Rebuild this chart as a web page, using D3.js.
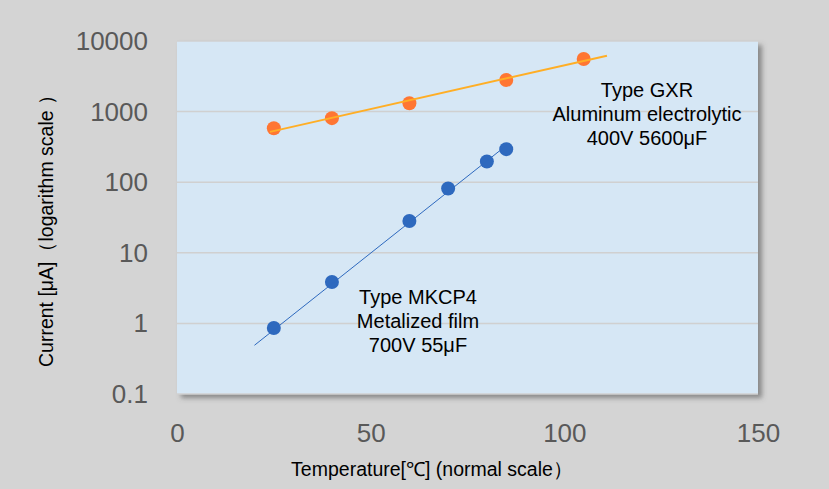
<!DOCTYPE html>
<html>
<head>
<meta charset="utf-8">
<script src="https://cdn.jsdelivr.net/npm/d3@7"></script>
<style>
  html, body { margin: 0; padding: 0; background: #d4d4d4; }
  svg { display: block; }
</style>
</head>
<body>
<div id="chart"></div>
<script>
// Type MKCP4 metalized film (blue)
const filmTemp = [25, 40, 60, 70, 80, 85];
const filmCurrent = [0.86, 3.86, 28.2, 81.5, 196, 294];
const filmTrend = [[20, 0.49], [85, 330]];

// Type GXR aluminum electrolytic (orange)
const aluTemp = [25, 40, 60, 85, 105];
const aluCurrent = [582, 807, 1315, 2807, 5565];
const aluTrend = [[24, 516], [111, 6200]];

const xTicks = [0, 50, 100, 150];
const yTicks = [0.1, 1, 10, 100, 1000, 10000];

const filmLabel = ['Type MKCP4', 'Metalized film', '700V 55μF'];
const aluLabel = ['Type GXR', 'Aluminum electrolytic', '400V 5600μF'];

const w = 829;
const h = 489;
const plot = { left: 177, right: 758, top: 41, bottom: 394 };

const xScale = d3.scaleLinear()
  .domain([0, 150])
  .range([plot.left, plot.right]);

const yScale = d3.scaleLog()
  .domain([0.1, 10000])
  .range([plot.bottom, plot.top]);

const svg = d3.select('#chart')
  .append('svg')
  .attr('width', w)
  .attr('height', h);

const defs = svg.append('defs');
const shadow = defs.append('filter')
  .attr('id', 'shadow')
  .attr('x', '-5%').attr('y', '-5%')
  .attr('width', '115%').attr('height', '120%');
shadow.append('feDropShadow')
  .attr('dx', 4).attr('dy', 4)
  .attr('stdDeviation', 2.5)
  .attr('flood-color', '#555')
  .attr('flood-opacity', 0.6);

svg.append('rect')
  .attr('x', plot.left)
  .attr('y', plot.top)
  .attr('width', plot.right - plot.left)
  .attr('height', plot.bottom - plot.top)
  .attr('fill', '#d6e7f5')
  .attr('filter', 'url(#shadow)');

// gridlines
svg.append('g')
  .selectAll('line')
  .data(yTicks)
  .enter()
  .append('line')
  .attr('x1', plot.left)
  .attr('x2', plot.right)
  .attr('y1', (d) => yScale(d))
  .attr('y2', (d) => yScale(d))
  .attr('stroke', '#d0d0d0')
  .attr('stroke-width', 1.5);

// axes (labels only, no domain lines)
const xAxis = d3.axisBottom(xScale)
  .tickValues(xTicks)
  .tickSize(0)
  .tickPadding(0)
  .tickFormat(d3.format('d'));

const gx = svg.append('g')
  .attr('id', 'x-axis')
  .attr('transform', 'translate(0,' + plot.bottom + ')')
  .call(xAxis);
gx.select('.domain').remove();
gx.selectAll('text')
  .attr('y', 48)
  .attr('dy', 0)
  .attr('fill', '#595959')
  .style('font-family', '"Liberation Sans", Arial, sans-serif')
  .style('font-size', '26px');

const yAxis = d3.axisLeft(yScale)
  .tickValues(yTicks)
  .tickSize(0)
  .tickPadding(0)
  .tickFormat((d) => String(d));

const gy = svg.append('g')
  .attr('id', 'y-axis')
  .attr('transform', 'translate(148,0)')
  .call(yAxis);
gy.select('.domain').remove();
gy.selectAll('text')
  .attr('x', 0)
  .attr('dy', '0.33em')
  .attr('fill', '#595959')
  .style('font-family', '"Liberation Sans", Arial, sans-serif')
  .style('font-size', '26px');

// axis titles
svg.append('text')
  .attr('transform', 'translate(53,226) rotate(-90)')
  .attr('text-anchor', 'middle')
  .style('font-family', '"Liberation Sans", Arial, sans-serif')
  .style('font-size', '19.5px')
  .attr('fill', '#000')
  .text('Current [μA]（logarithm scale ）');

svg.append('text')
  .attr('x', 432)
  .attr('y', 476)
  .attr('text-anchor', 'middle')
  .style('font-family', '"Liberation Sans", Arial, sans-serif')
  .style('font-size', '19.5px')
  .attr('fill', '#000')
  .text('Temperature[℃] (normal scale）');

// markers
svg.append('g')
  .selectAll('circle')
  .data(aluTemp.map((t, i) => [t, aluCurrent[i]]))
  .enter()
  .append('circle')
  .attr('cx', (d) => xScale(d[0]))
  .attr('cy', (d) => yScale(d[1]))
  .attr('r', 7)
  .attr('fill', '#ff7633');

svg.append('g')
  .selectAll('circle')
  .data(filmTemp.map((t, i) => [t, filmCurrent[i]]))
  .enter()
  .append('circle')
  .attr('cx', (d) => xScale(d[0]))
  .attr('cy', (d) => yScale(d[1]))
  .attr('r', 7)
  .attr('fill', '#2e69be');

// trendlines
const trend = d3.line()
  .x((d) => xScale(d[0]))
  .y((d) => yScale(d[1]));

svg.append('path')
  .datum(aluTrend)
  .attr('d', trend)
  .attr('fill', 'none')
  .attr('stroke', '#ffae25')
  .attr('stroke-width', 2);

svg.append('path')
  .datum(filmTrend)
  .attr('d', trend)
  .attr('fill', 'none')
  .attr('stroke', '#2e69be')
  .attr('stroke-width', 1);

// annotations
function addLabel(lines, cx, cy) {
  svg.append('g')
    .selectAll('text')
    .data(lines)
    .enter()
    .append('text')
    .attr('x', cx)
    .attr('y', (d, i) => cy + i * 24)
    .attr('dy', '0.35em')
    .attr('text-anchor', 'middle')
    .style('font-family', '"Liberation Sans", Arial, sans-serif')
    .style('font-size', '20px')
    .attr('fill', '#000')
    .text((d) => d);
}

addLabel(aluLabel, 647, 90);
addLabel(filmLabel, 418, 297);
</script>
</body>
</html>
